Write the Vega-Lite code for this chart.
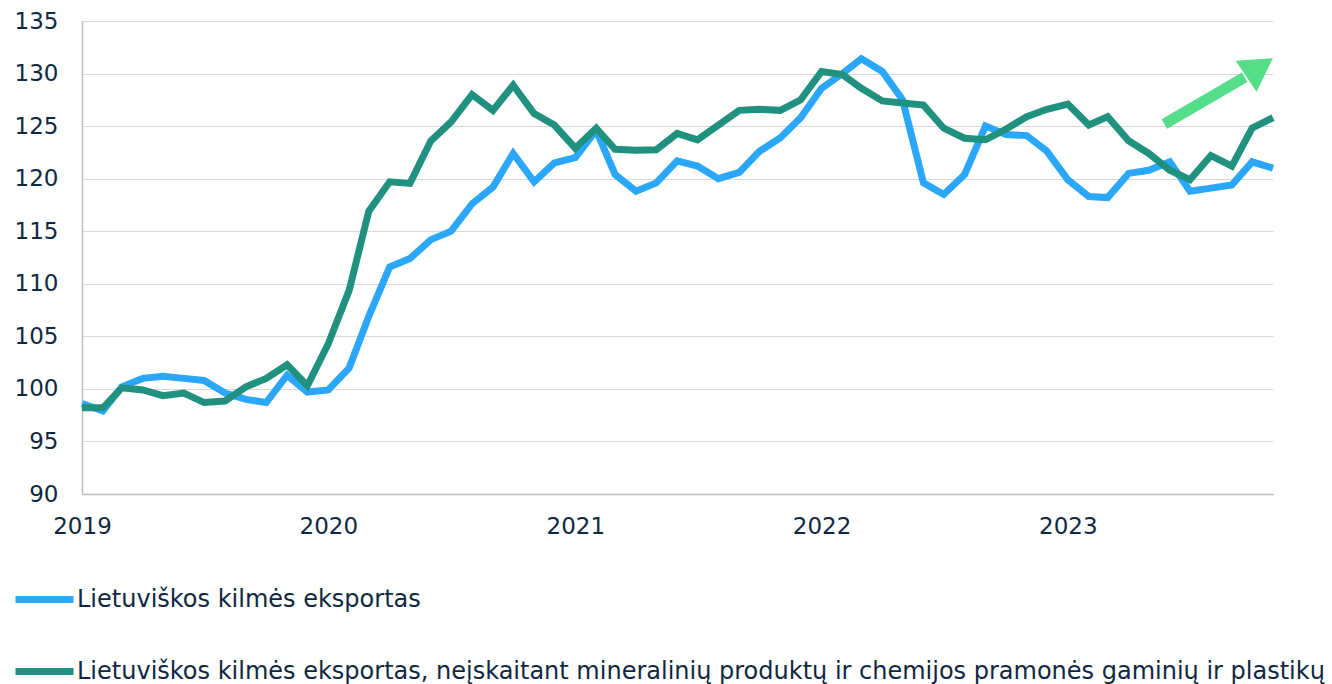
{
  "$schema": "https://vega.github.io/schema/vega-lite/v6.json",
  "width": 1191,
  "height": 473,
  "autosize": {"type": "none"},
  "padding": {"left": 82, "top": 21, "right": 59, "bottom": 190},
  "background": "white",
  "config": {
    "view": {"stroke": null},
    "font": "DejaVu Sans"
  },
  "datasets": {
    "series": [
      {"date": "2019-01-01", "s": "Lietuviškos kilmės eksportas", "v": 98.6},
      {"date": "2019-02-01", "s": "Lietuviškos kilmės eksportas", "v": 97.9},
      {"date": "2019-03-01", "s": "Lietuviškos kilmės eksportas", "v": 100.2},
      {"date": "2019-04-01", "s": "Lietuviškos kilmės eksportas", "v": 101.0},
      {"date": "2019-05-01", "s": "Lietuviškos kilmės eksportas", "v": 101.2},
      {"date": "2019-06-01", "s": "Lietuviškos kilmės eksportas", "v": 101.0},
      {"date": "2019-07-01", "s": "Lietuviškos kilmės eksportas", "v": 100.8},
      {"date": "2019-08-01", "s": "Lietuviškos kilmės eksportas", "v": 99.6},
      {"date": "2019-09-01", "s": "Lietuviškos kilmės eksportas", "v": 99.0},
      {"date": "2019-10-01", "s": "Lietuviškos kilmės eksportas", "v": 98.7},
      {"date": "2019-11-01", "s": "Lietuviškos kilmės eksportas", "v": 101.3},
      {"date": "2019-12-01", "s": "Lietuviškos kilmės eksportas", "v": 99.7},
      {"date": "2020-01-01", "s": "Lietuviškos kilmės eksportas", "v": 99.9},
      {"date": "2020-02-01", "s": "Lietuviškos kilmės eksportas", "v": 102.0},
      {"date": "2020-03-01", "s": "Lietuviškos kilmės eksportas", "v": 106.9},
      {"date": "2020-04-01", "s": "Lietuviškos kilmės eksportas", "v": 111.6},
      {"date": "2020-05-01", "s": "Lietuviškos kilmės eksportas", "v": 112.4},
      {"date": "2020-06-01", "s": "Lietuviškos kilmės eksportas", "v": 114.2},
      {"date": "2020-07-01", "s": "Lietuviškos kilmės eksportas", "v": 115.0},
      {"date": "2020-08-01", "s": "Lietuviškos kilmės eksportas", "v": 117.6},
      {"date": "2020-09-01", "s": "Lietuviškos kilmės eksportas", "v": 119.2},
      {"date": "2020-10-01", "s": "Lietuviškos kilmės eksportas", "v": 122.4},
      {"date": "2020-11-01", "s": "Lietuviškos kilmės eksportas", "v": 119.7},
      {"date": "2020-12-01", "s": "Lietuviškos kilmės eksportas", "v": 121.5},
      {"date": "2021-01-01", "s": "Lietuviškos kilmės eksportas", "v": 122.0},
      {"date": "2021-02-01", "s": "Lietuviškos kilmės eksportas", "v": 124.6},
      {"date": "2021-03-01", "s": "Lietuviškos kilmės eksportas", "v": 120.4},
      {"date": "2021-04-01", "s": "Lietuviškos kilmės eksportas", "v": 118.8},
      {"date": "2021-05-01", "s": "Lietuviškos kilmės eksportas", "v": 119.6},
      {"date": "2021-06-01", "s": "Lietuviškos kilmės eksportas", "v": 121.7},
      {"date": "2021-07-01", "s": "Lietuviškos kilmės eksportas", "v": 121.2},
      {"date": "2021-08-01", "s": "Lietuviškos kilmės eksportas", "v": 120.0},
      {"date": "2021-09-01", "s": "Lietuviškos kilmės eksportas", "v": 120.6},
      {"date": "2021-10-01", "s": "Lietuviškos kilmės eksportas", "v": 122.6},
      {"date": "2021-11-01", "s": "Lietuviškos kilmės eksportas", "v": 123.9},
      {"date": "2021-12-01", "s": "Lietuviškos kilmės eksportas", "v": 125.8},
      {"date": "2022-01-01", "s": "Lietuviškos kilmės eksportas", "v": 128.6},
      {"date": "2022-02-01", "s": "Lietuviškos kilmės eksportas", "v": 130.0},
      {"date": "2022-03-01", "s": "Lietuviškos kilmės eksportas", "v": 131.4},
      {"date": "2022-04-01", "s": "Lietuviškos kilmės eksportas", "v": 130.2},
      {"date": "2022-05-01", "s": "Lietuviškos kilmės eksportas", "v": 127.5},
      {"date": "2022-06-01", "s": "Lietuviškos kilmės eksportas", "v": 119.6},
      {"date": "2022-07-01", "s": "Lietuviškos kilmės eksportas", "v": 118.5},
      {"date": "2022-08-01", "s": "Lietuviškos kilmės eksportas", "v": 120.4},
      {"date": "2022-09-01", "s": "Lietuviškos kilmės eksportas", "v": 125.0},
      {"date": "2022-10-01", "s": "Lietuviškos kilmės eksportas", "v": 124.2},
      {"date": "2022-11-01", "s": "Lietuviškos kilmės eksportas", "v": 124.1},
      {"date": "2022-12-01", "s": "Lietuviškos kilmės eksportas", "v": 122.6},
      {"date": "2023-01-01", "s": "Lietuviškos kilmės eksportas", "v": 119.9},
      {"date": "2023-02-01", "s": "Lietuviškos kilmės eksportas", "v": 118.3},
      {"date": "2023-03-01", "s": "Lietuviškos kilmės eksportas", "v": 118.2},
      {"date": "2023-04-01", "s": "Lietuviškos kilmės eksportas", "v": 120.5},
      {"date": "2023-05-01", "s": "Lietuviškos kilmės eksportas", "v": 120.8},
      {"date": "2023-06-01", "s": "Lietuviškos kilmės eksportas", "v": 121.6},
      {"date": "2023-07-01", "s": "Lietuviškos kilmės eksportas", "v": 118.8},
      {"date": "2023-08-01", "s": "Lietuviškos kilmės eksportas", "v": 119.1},
      {"date": "2023-09-01", "s": "Lietuviškos kilmės eksportas", "v": 119.4},
      {"date": "2023-10-01", "s": "Lietuviškos kilmės eksportas", "v": 121.6},
      {"date": "2023-11-01", "s": "Lietuviškos kilmės eksportas", "v": 121.0},
      {"date": "2019-01-01", "s": "Lietuviškos kilmės eksportas, neįskaitant mineralinių produktų ir chemijos pramonės gaminių ir plastikų", "v": 98.2},
      {"date": "2019-02-01", "s": "Lietuviškos kilmės eksportas, neįskaitant mineralinių produktų ir chemijos pramonės gaminių ir plastikų", "v": 98.2},
      {"date": "2019-03-01", "s": "Lietuviškos kilmės eksportas, neįskaitant mineralinių produktų ir chemijos pramonės gaminių ir plastikų", "v": 100.1},
      {"date": "2019-04-01", "s": "Lietuviškos kilmės eksportas, neįskaitant mineralinių produktų ir chemijos pramonės gaminių ir plastikų", "v": 99.9},
      {"date": "2019-05-01", "s": "Lietuviškos kilmės eksportas, neįskaitant mineralinių produktų ir chemijos pramonės gaminių ir plastikų", "v": 99.35},
      {"date": "2019-06-01", "s": "Lietuviškos kilmės eksportas, neįskaitant mineralinių produktų ir chemijos pramonės gaminių ir plastikų", "v": 99.6},
      {"date": "2019-07-01", "s": "Lietuviškos kilmės eksportas, neįskaitant mineralinių produktų ir chemijos pramonės gaminių ir plastikų", "v": 98.7},
      {"date": "2019-08-01", "s": "Lietuviškos kilmės eksportas, neįskaitant mineralinių produktų ir chemijos pramonės gaminių ir plastikų", "v": 98.85},
      {"date": "2019-09-01", "s": "Lietuviškos kilmės eksportas, neįskaitant mineralinių produktų ir chemijos pramonės gaminių ir plastikų", "v": 100.2},
      {"date": "2019-10-01", "s": "Lietuviškos kilmės eksportas, neįskaitant mineralinių produktų ir chemijos pramonės gaminių ir plastikų", "v": 101.0},
      {"date": "2019-11-01", "s": "Lietuviškos kilmės eksportas, neįskaitant mineralinių produktų ir chemijos pramonės gaminių ir plastikų", "v": 102.3},
      {"date": "2019-12-01", "s": "Lietuviškos kilmės eksportas, neįskaitant mineralinių produktų ir chemijos pramonės gaminių ir plastikų", "v": 100.3},
      {"date": "2020-01-01", "s": "Lietuviškos kilmės eksportas, neįskaitant mineralinių produktų ir chemijos pramonės gaminių ir plastikų", "v": 104.3},
      {"date": "2020-02-01", "s": "Lietuviškos kilmės eksportas, neįskaitant mineralinių produktų ir chemijos pramonės gaminių ir plastikų", "v": 109.4},
      {"date": "2020-03-01", "s": "Lietuviškos kilmės eksportas, neįskaitant mineralinių produktų ir chemijos pramonės gaminių ir plastikų", "v": 116.9},
      {"date": "2020-04-01", "s": "Lietuviškos kilmės eksportas, neįskaitant mineralinių produktų ir chemijos pramonės gaminių ir plastikų", "v": 119.7},
      {"date": "2020-05-01", "s": "Lietuviškos kilmės eksportas, neįskaitant mineralinių produktų ir chemijos pramonės gaminių ir plastikų", "v": 119.55},
      {"date": "2020-06-01", "s": "Lietuviškos kilmės eksportas, neįskaitant mineralinių produktų ir chemijos pramonės gaminių ir plastikų", "v": 123.6},
      {"date": "2020-07-01", "s": "Lietuviškos kilmės eksportas, neįskaitant mineralinių produktų ir chemijos pramonės gaminių ir plastikų", "v": 125.4},
      {"date": "2020-08-01", "s": "Lietuviškos kilmės eksportas, neįskaitant mineralinių produktų ir chemijos pramonės gaminių ir plastikų", "v": 128.0},
      {"date": "2020-09-01", "s": "Lietuviškos kilmės eksportas, neįskaitant mineralinių produktų ir chemijos pramonės gaminių ir plastikų", "v": 126.5},
      {"date": "2020-10-01", "s": "Lietuviškos kilmės eksportas, neįskaitant mineralinių produktų ir chemijos pramonės gaminių ir plastikų", "v": 128.9},
      {"date": "2020-11-01", "s": "Lietuviškos kilmės eksportas, neįskaitant mineralinių produktų ir chemijos pramonės gaminių ir plastikų", "v": 126.2},
      {"date": "2020-12-01", "s": "Lietuviškos kilmės eksportas, neįskaitant mineralinių produktų ir chemijos pramonės gaminių ir plastikų", "v": 125.1},
      {"date": "2021-01-01", "s": "Lietuviškos kilmės eksportas, neįskaitant mineralinių produktų ir chemijos pramonės gaminių ir plastikų", "v": 122.9},
      {"date": "2021-02-01", "s": "Lietuviškos kilmės eksportas, neįskaitant mineralinių produktų ir chemijos pramonės gaminių ir plastikų", "v": 124.8},
      {"date": "2021-03-01", "s": "Lietuviškos kilmės eksportas, neįskaitant mineralinių produktų ir chemijos pramonės gaminių ir plastikų", "v": 122.8},
      {"date": "2021-04-01", "s": "Lietuviškos kilmės eksportas, neįskaitant mineralinių produktų ir chemijos pramonės gaminių ir plastikų", "v": 122.7},
      {"date": "2021-05-01", "s": "Lietuviškos kilmės eksportas, neįskaitant mineralinių produktų ir chemijos pramonės gaminių ir plastikų", "v": 122.75},
      {"date": "2021-06-01", "s": "Lietuviškos kilmės eksportas, neįskaitant mineralinių produktų ir chemijos pramonės gaminių ir plastikų", "v": 124.3},
      {"date": "2021-07-01", "s": "Lietuviškos kilmės eksportas, neįskaitant mineralinių produktų ir chemijos pramonės gaminių ir plastikų", "v": 123.7},
      {"date": "2021-08-01", "s": "Lietuviškos kilmės eksportas, neįskaitant mineralinių produktų ir chemijos pramonės gaminių ir plastikų", "v": 125.1},
      {"date": "2021-09-01", "s": "Lietuviškos kilmės eksportas, neįskaitant mineralinių produktų ir chemijos pramonės gaminių ir plastikų", "v": 126.5},
      {"date": "2021-10-01", "s": "Lietuviškos kilmės eksportas, neįskaitant mineralinių produktų ir chemijos pramonės gaminių ir plastikų", "v": 126.6},
      {"date": "2021-11-01", "s": "Lietuviškos kilmės eksportas, neįskaitant mineralinių produktų ir chemijos pramonės gaminių ir plastikų", "v": 126.5},
      {"date": "2021-12-01", "s": "Lietuviškos kilmės eksportas, neįskaitant mineralinių produktų ir chemijos pramonės gaminių ir plastikų", "v": 127.5},
      {"date": "2022-01-01", "s": "Lietuviškos kilmės eksportas, neįskaitant mineralinių produktų ir chemijos pramonės gaminių ir plastikų", "v": 130.2},
      {"date": "2022-02-01", "s": "Lietuviškos kilmės eksportas, neįskaitant mineralinių produktų ir chemijos pramonės gaminių ir plastikų", "v": 129.9},
      {"date": "2022-03-01", "s": "Lietuviškos kilmės eksportas, neįskaitant mineralinių produktų ir chemijos pramonės gaminių ir plastikų", "v": 128.6},
      {"date": "2022-04-01", "s": "Lietuviškos kilmės eksportas, neįskaitant mineralinių produktų ir chemijos pramonės gaminių ir plastikų", "v": 127.4},
      {"date": "2022-05-01", "s": "Lietuviškos kilmės eksportas, neįskaitant mineralinių produktų ir chemijos pramonės gaminių ir plastikų", "v": 127.2},
      {"date": "2022-06-01", "s": "Lietuviškos kilmės eksportas, neįskaitant mineralinių produktų ir chemijos pramonės gaminių ir plastikų", "v": 127.0},
      {"date": "2022-07-01", "s": "Lietuviškos kilmės eksportas, neįskaitant mineralinių produktų ir chemijos pramonės gaminių ir plastikų", "v": 124.8},
      {"date": "2022-08-01", "s": "Lietuviškos kilmės eksportas, neįskaitant mineralinių produktų ir chemijos pramonės gaminių ir plastikų", "v": 123.85},
      {"date": "2022-09-01", "s": "Lietuviškos kilmės eksportas, neįskaitant mineralinių produktų ir chemijos pramonės gaminių ir plastikų", "v": 123.7},
      {"date": "2022-10-01", "s": "Lietuviškos kilmės eksportas, neįskaitant mineralinių produktų ir chemijos pramonės gaminių ir plastikų", "v": 124.7},
      {"date": "2022-11-01", "s": "Lietuviškos kilmės eksportas, neįskaitant mineralinių produktų ir chemijos pramonės gaminių ir plastikų", "v": 125.9},
      {"date": "2022-12-01", "s": "Lietuviškos kilmės eksportas, neįskaitant mineralinių produktų ir chemijos pramonės gaminių ir plastikų", "v": 126.6},
      {"date": "2023-01-01", "s": "Lietuviškos kilmės eksportas, neįskaitant mineralinių produktų ir chemijos pramonės gaminių ir plastikų", "v": 127.1},
      {"date": "2023-02-01", "s": "Lietuviškos kilmės eksportas, neįskaitant mineralinių produktų ir chemijos pramonės gaminių ir plastikų", "v": 125.1},
      {"date": "2023-03-01", "s": "Lietuviškos kilmės eksportas, neįskaitant mineralinių produktų ir chemijos pramonės gaminių ir plastikų", "v": 125.9},
      {"date": "2023-04-01", "s": "Lietuviškos kilmės eksportas, neįskaitant mineralinių produktų ir chemijos pramonės gaminių ir plastikų", "v": 123.6},
      {"date": "2023-05-01", "s": "Lietuviškos kilmės eksportas, neįskaitant mineralinių produktų ir chemijos pramonės gaminių ir plastikų", "v": 122.4},
      {"date": "2023-06-01", "s": "Lietuviškos kilmės eksportas, neįskaitant mineralinių produktų ir chemijos pramonės gaminių ir plastikų", "v": 120.8},
      {"date": "2023-07-01", "s": "Lietuviškos kilmės eksportas, neįskaitant mineralinių produktų ir chemijos pramonės gaminių ir plastikų", "v": 119.9},
      {"date": "2023-08-01", "s": "Lietuviškos kilmės eksportas, neįskaitant mineralinių produktų ir chemijos pramonės gaminių ir plastikų", "v": 122.2},
      {"date": "2023-09-01", "s": "Lietuviškos kilmės eksportas, neįskaitant mineralinių produktų ir chemijos pramonės gaminių ir plastikų", "v": 121.2},
      {"date": "2023-10-01", "s": "Lietuviškos kilmės eksportas, neįskaitant mineralinių produktų ir chemijos pramonės gaminių ir plastikų", "v": 124.8},
      {"date": "2023-11-01", "s": "Lietuviškos kilmės eksportas, neįskaitant mineralinių produktų ir chemijos pramonės gaminių ir plastikų", "v": 125.8}
    ],
    "arrowShaft": [
      {"date": "2023-05-24", "v": 125.2, "date2": "2023-09-20", "v2": 129.66}
    ],
    "arrowHead": [
      {"date": "2023-10-12", "v": 130.6}
    ]
  },
  "layer": [
    {
      "data": {"name": "series"},
      "mark": {"type": "line", "strokeWidth": 7, "strokeJoin": "miter"},
      "encoding": {
        "x": {
          "field": "date",
          "type": "temporal",
          "scale": {"type": "utc", "domain": [{"year": 2019, "month": 1, "date": 1, "utc": true}, {"year": 2023, "month": 11, "date": 1, "utc": true}]},
          "axis": {
            "title": null,
            "format": "%Y",
            "tickCount": "year",
            "grid": false,
            "ticks": false,
            "labelFontSize": 23,
            "labelColor": "#0E2841",
            "labelPadding": 21,
            "domainColor": "#BFBFBF",
            "domainWidth": 1.5,
            "labelFlush": false
          }
        },
        "y": {
          "field": "v",
          "type": "quantitative",
          "scale": {"domain": [90, 135], "nice": false, "zero": false},
          "axis": {
            "title": null,
            "values": [90, 95, 100, 105, 110, 115, 120, 125, 130, 135],
            "ticks": false,
            "labelFontSize": 23,
            "labelColor": "#0E2841",
            "labelPadding": 24,
            "gridColor": "#D9D9D9",
            "gridWidth": 1.2,
            "domainColor": "#BFBFBF",
            "domainWidth": 1.5
          }
        },
        "color": {
          "field": "s",
          "type": "nominal",
          "scale": {
            "domain": ["Lietuviškos kilmės eksportas", "Lietuviškos kilmės eksportas, neįskaitant mineralinių produktų ir chemijos pramonės gaminių ir plastikų"],
            "range": ["#2AA7FB", "#20917F"]
          },
          "legend": {
            "title": null,
            "orient": "none",
            "direction": "vertical",
            "legendX": -70,
            "legendY": 546,
            "symbolType": "stroke",
            "symbolSize": 3364,
            "symbolStrokeWidth": 7,
            "labelFontSize": 24,
            "labelColor": "#0E2841",
            "labelLimit": 1500,
            "labelOffset": 0,
            "rowPadding": 25
          }
        }
      }
    },
    {
      "data": {"name": "arrowShaft"},
      "mark": {"type": "rule", "strokeWidth": 11, "color": "#55DE89", "strokeCap": "butt"},
      "encoding": {
        "x": {"field": "date", "type": "temporal"},
        "x2": {"field": "date2"},
        "y": {"field": "v", "type": "quantitative"},
        "y2": {"field": "v2"}
      }
    },
    {
      "data": {"name": "arrowHead"},
      "mark": {"type": "point", "shape": "triangle-up", "filled": true, "color": "#55DE89", "opacity": 1, "size": 1400, "angle": 56},
      "encoding": {
        "x": {"field": "date", "type": "temporal"},
        "y": {"field": "v", "type": "quantitative"}
      }
    }
  ]
}
